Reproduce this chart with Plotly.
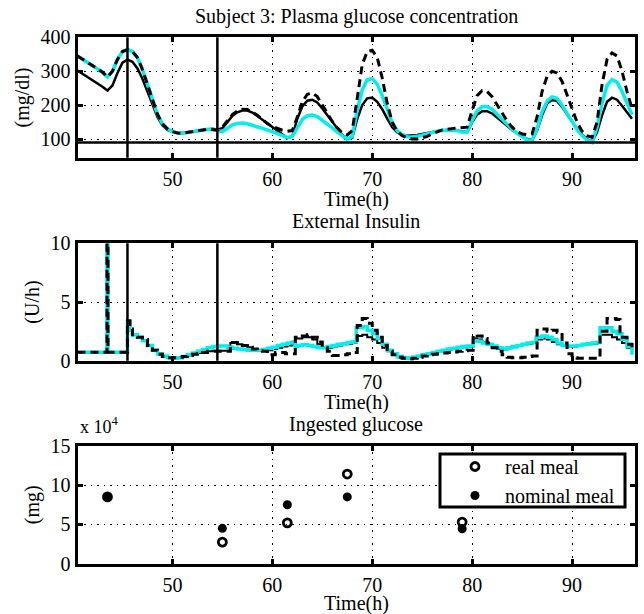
import plotly.graph_objects as go

# ---------------- data ----------------
glucose_time = [40.5, 41, 41.5, 42, 42.5, 43, 43.5, 44, 44.5, 45, 45.5, 46, 46.5, 47, 47.5, 48, 48.5, 49, 49.5, 50,
                50.5, 51, 51.5, 52, 52.5, 53, 53.5, 54, 54.5, 55, 55.5, 56, 56.5, 57, 57.5, 58, 58.5, 59, 59.5, 60,
                60.5, 61, 61.5, 62, 62.5, 63, 63.5, 64, 64.5, 65, 65.5, 66, 66.5, 67, 67.5, 68, 68.5, 69, 69.5, 70,
                70.5, 71, 71.5, 72, 72.5, 73, 73.5, 74, 74.5, 75, 75.5, 76, 76.5, 77, 77.5, 78, 78.5, 79, 79.5, 80,
                80.5, 81, 81.5, 82, 82.5, 83, 83.5, 84, 84.5, 85, 85.5, 86, 86.5, 87, 87.5, 88, 88.5, 89, 89.5, 90,
                90.5, 91, 91.5, 92, 92.5, 93, 93.5, 94, 94.5, 95, 95.5, 96]

glucose_black = [302, 293, 284, 274, 264, 254, 243, 258, 295, 325, 334, 328, 308, 278, 240, 200, 165, 140, 127, 121,
                 118, 118, 120, 122, 125, 127, 129, 130, 128, 132, 150, 168, 179, 184, 184, 178, 168, 157, 146, 136,
                 124, 112, 103, 108, 160, 196, 213, 216, 208, 190, 170, 150, 130, 112, 99, 104, 160, 200, 220, 222,
                 210, 188, 160, 135, 120, 113, 110, 110, 112, 115, 118, 121, 124, 126, 127, 127, 126, 122, 120, 150,
                 172, 182, 182, 175, 163, 150, 138, 127, 117, 108, 100, 97, 125, 170, 205, 215, 212, 195, 172, 150,
                 130, 113, 100, 92, 120, 170, 210, 222, 216, 198, 178, 160]

glucose_cyan = [345, 336, 326, 317, 307, 297, 283, 300, 335, 358, 364, 358, 340, 305, 262, 215, 173, 145, 130, 122,
                118, 117, 119, 122, 125, 127, 129, 128, 125, 122, 132, 142, 146, 147, 145, 141, 136, 131, 127, 122,
                116, 110, 104, 108, 135, 158, 169, 171, 166, 156, 145, 133, 121, 110, 99, 108, 185, 245, 275, 278,
                262, 228, 185, 148, 125, 113, 107, 106, 108, 112, 116, 120, 123, 125, 126, 126, 125, 121, 120, 155,
                183, 195, 196, 188, 173, 158, 143, 129, 117, 106, 98, 96, 130, 180, 212, 224, 220, 200, 175, 150,
                128, 110, 97, 90, 135, 205, 258, 275, 268, 240, 205, 172]

glucose_dashed = [345, 336, 326, 317, 307, 297, 283, 300, 335, 358, 364, 358, 340, 305, 262, 215, 173, 145, 130, 122,
                  118, 117, 119, 122, 125, 127, 129, 128, 126, 135, 155, 172, 183, 188, 187, 180, 170, 158, 146, 137,
                  131, 126, 123, 125, 165, 210, 232, 236, 225, 200, 175, 152, 133, 118, 112, 125, 220, 320, 358, 362,
                  340, 280, 205, 150, 122, 110, 104, 100, 100, 103, 108, 115, 122, 127, 129, 130, 131, 132, 135, 185,
                  228, 243, 240, 225, 200, 175, 153, 135, 122, 115, 113, 115, 165, 240, 285, 300, 295, 270, 232, 190,
                  150, 123, 110, 105, 150, 260, 335, 354, 345, 300, 240, 190]

hypo_threshold = 90          # mg/dl
event_times = [45.5, 54.5]   # h

ins_black_time = [40.5, 43.45, 43.55, 45.5, 45.75, 46, 46.5, 47, 47.5, 48, 48.5, 49, 49.5, 50, 50.5, 51, 51.5, 52,
                  52.5, 53, 53.5, 54, 54.5, 55.8, 56.5, 57, 57.5, 58, 58.5, 59, 59.5, 60, 60.5, 61, 61.5, 62, 62.3,
                  63, 63.5, 64, 64.5, 65, 65.5, 66, 66.5, 67, 67.5, 68, 68.4, 69, 69.5, 70, 70.5, 71, 71.5, 72, 72.5,
                  73, 73.5, 74, 74.5, 75, 75.5, 76, 76.5, 77, 77.5, 78, 78.5, 79, 79.5, 80.1, 80.5, 81, 81.5, 82,
                  82.5, 83, 83.5, 84, 84.5, 85, 85.5, 86, 86.4, 87, 87.5, 88, 88.5, 89, 89.5, 90, 90.5, 91, 91.5, 92,
                  92.5, 92.8, 93.5, 94, 94.5, 95, 95.5, 96]
ins_black = [0.72, 10, 0.72, 3.3, 2.6, 2.2, 2.0, 1.75, 1.3, 0.9, 0.55, 0.35, 0.25, 0.22, 0.28, 0.35, 0.45, 0.55,
             0.65, 0.75, 0.8, 0.85, 0.85, 1.5, 1.4, 1.3, 1.15, 1.0, 0.9, 0.85, 0.9, 1.0, 1.1, 1.2, 1.3, 1.4, 1.9,
             2.0, 2.0, 1.8, 1.4, 1.1, 1.1, 1.2, 1.3, 1.4, 1.45, 1.5, 2.1, 2.2, 2.0, 1.8, 1.5, 1.1, 0.8, 0.5, 0.3,
             0.2, 0.2, 0.25, 0.35, 0.45, 0.55, 0.65, 0.75, 0.85, 0.95, 1.0, 1.1, 1.15, 1.2, 1.9, 1.8, 1.6, 1.4, 1.2,
             1.0, 0.95, 1.05, 1.15, 1.25, 1.35, 1.45, 1.5, 1.8, 1.9, 1.8, 1.6, 1.4, 1.25, 1.2, 1.2, 1.25, 1.35, 1.4, 1.45,
             1.5, 2.2, 2.2, 2.0, 1.8, 1.5, 1.1, 0.6]

ins_cyan_time = [40.5, 43.45, 43.55, 45.5, 45.75, 46, 46.5, 47, 47.5, 48, 48.5, 49, 49.5, 50, 50.5, 51, 51.5, 52,
                 52.5, 53, 53.5, 54, 54.5, 55, 55.5, 56, 56.5, 57, 57.5, 58, 58.5, 59, 59.5, 60, 60.5, 61, 61.5, 62,
                 62.3, 62.5, 63, 63.5, 64, 64.5, 65, 65.5, 66, 66.5, 67, 67.5, 68, 68.4, 69, 69.5, 70, 70.5, 71, 71.5,
                 72, 72.5, 73, 73.5, 74, 74.5, 75, 75.5, 76, 76.5, 77, 77.5, 78, 78.5, 79, 79.5, 80.1, 80.5, 81, 81.5,
                 82, 82.5, 83, 83.5, 84, 84.5, 85, 85.5, 86, 86.4, 87, 87.5, 88, 88.5, 89, 89.5, 90, 90.5, 91, 91.5,
                 92, 92.5, 92.8, 93.5, 94, 94.5, 95, 95.5, 96]
ins_cyan = [0.72, 10, 0.72, 3.3, 2.6, 2.2, 2.0, 1.7, 1.3, 0.9, 0.6, 0.4, 0.25, 0.2, 0.25, 0.35, 0.5, 0.65,
            0.8, 0.95, 1.1, 1.2, 1.25, 1.25, 1.15, 1.05, 1.0, 0.95, 0.9, 0.9, 0.9, 0.95, 1.05, 1.15, 1.3, 1.4, 1.5, 1.6,
            1.2, 1.3, 1.35, 1.3, 1.2, 1.1, 1.1, 1.2, 1.3, 1.4, 1.45, 1.55, 1.6, 2.8, 2.9, 2.6, 2.3, 1.9, 1.4, 0.9,
            0.6, 0.35, 0.25, 0.2, 0.3, 0.4, 0.5, 0.6, 0.7, 0.8, 0.9, 1.0, 1.05, 1.15, 1.2, 1.25, 1.7, 1.65, 1.5, 1.4,
            1.25, 1.1, 1.0, 1.1, 1.2, 1.3, 1.4, 1.5, 1.55, 2.0, 2.1, 2.0, 1.8, 1.5, 1.3, 1.25, 1.25, 1.3, 1.4, 1.45,
            1.5, 1.55, 2.8, 2.8, 2.5, 2.3, 1.8, 1.2, 0.5]

ins_dashed_time = [40.5, 43.45, 43.55, 45.5, 45.75, 46, 46.5, 47, 47.5, 48, 48.5, 49, 49.5, 50, 50.5, 51, 51.5, 52,
                   52.5, 53, 53.5, 54, 54.5, 55.8, 56.5, 57, 57.5, 58, 58.5, 59, 59.5, 60.3, 61.3, 62.3, 63, 63.5,
                   64, 64.5, 65, 65.5, 66, 67, 67.5, 68, 68.5, 69, 69.5, 70, 70.5, 71, 71.5, 72, 72.5, 73, 73.5, 74,
                   74.5, 75, 75.5, 76, 76.5, 77, 77.5, 78, 78.5, 79, 79.5, 80.1, 80.5, 81, 81.5, 82, 82.5, 83, 83.5,
                   84, 84.5, 85, 85.5, 86, 86.5, 87, 87.5, 88, 88.5, 89, 89.5, 90, 90.5, 91, 91.5, 92, 92.5, 92.8,
                   93.5, 94.4, 94.8, 95.5, 96]
ins_dashed = [0.72, 10, 0.72, 3.4, 2.7, 2.2, 2.0, 1.8, 1.3, 0.9, 0.55, 0.35, 0.25, 0.25, 0.3, 0.35, 0.45, 0.55,
              0.6, 0.7, 0.8, 0.8, 0.8, 1.55, 1.45, 1.3, 1.15, 1.0, 0.85, 0.8, 0.5, 0.7, 0.6, 2.0, 2.1, 2.2,
              2.0, 1.6, 1.1, 0.8, 0.45, 0.5, 0.6, 0.7, 3.0, 3.6, 3.2, 2.6, 2.0, 1.3, 0.8, 0.5, 0.3, 0.2, 0.15, 0.2,
              0.3, 0.4, 0.5, 0.55, 0.6, 0.65, 0.7, 0.75, 0.8, 0.85, 0.9, 2.2, 2.1, 1.9, 1.5, 1.1, 0.8, 0.5, 0.3,
              0.25, 0.25, 0.3, 0.35, 0.4, 2.6, 2.7, 2.5, 2.6, 2.4, 1.5, 0.6, 0.25, 0.2, 0.2, 0.2, 0.2, 0.3, 2.5,
              3.6, 3.5, 2.0, 1.4, 0.8]

meal_time = [43.5, 55.0, 61.5, 67.5, 79.0]
real_meal_mg = [85000, 27500, 52000, 114000, 53000]
nominal_meal_mg = [85000, 45000, 75000, 85000, 44500]

x_ticks = [50, 60, 70, 80, 90]

# ---------------- styling ----------------
FONT = "Liberation Serif"
CYAN = "#00EEEE"
W, H = 644, 614
X_LEFT, X_RIGHT = 77.5, 635


def px_dom_x(a, b):
    return [a / W, b / W]


def px_dom_y(top, bottom):
    return [1 - bottom / H, 1 - top / H]


def py(p):
    return 1 - p / H


fig = go.Figure()

# Panel 1 : glucose
fig.add_trace(go.Scatter(x=glucose_time, y=glucose_black, mode="lines", xaxis="x", yaxis="y",
                         line=dict(color="black", width=2.5), showlegend=False))
fig.add_trace(go.Scatter(x=glucose_time, y=glucose_cyan, mode="lines", xaxis="x", yaxis="y",
                         line=dict(color=CYAN, width=3.5), showlegend=False))
fig.add_trace(go.Scatter(x=glucose_time, y=glucose_dashed, mode="lines", xaxis="x", yaxis="y",
                         line=dict(color="black", width=3, dash="8px,5px"), showlegend=False))

# Panel 2 : insulin
fig.add_trace(go.Scatter(x=ins_black_time, y=ins_black, mode="lines", xaxis="x2", yaxis="y2",
                         line=dict(color="black", width=2, shape="hv"), showlegend=False))
fig.add_trace(go.Scatter(x=ins_cyan_time, y=ins_cyan, mode="lines", xaxis="x2", yaxis="y2",
                         line=dict(color=CYAN, width=3.5, shape="hv"), showlegend=False))
fig.add_trace(go.Scatter(x=ins_dashed_time, y=ins_dashed, mode="lines", xaxis="x2", yaxis="y2",
                         line=dict(color="black", width=3, dash="8px,5px", shape="hv"), showlegend=False))

# Panel 3 : meals
fig.add_trace(go.Scatter(x=meal_time, y=[v / 1e4 for v in real_meal_mg], mode="markers", xaxis="x3", yaxis="y3",
                         name="real meal",
                         marker=dict(symbol="circle-open", size=8, color="black", line=dict(width=2.8, color="black"))))
fig.add_trace(go.Scatter(x=meal_time, y=[v / 1e4 for v in nominal_meal_mg], mode="markers", xaxis="x3", yaxis="y3",
                         name="nominal meal",
                         marker=dict(symbol="circle", size=9, color="black")))

axis_common = dict(showline=True, linewidth=3, linecolor="black", mirror="ticks",
                   ticks="inside", ticklen=5, tickwidth=2.5, tickcolor="black",
                   showgrid=True, gridcolor="black", gridwidth=1.2, griddash="1.5px,5px",
                   zeroline=False, automargin=False,
                   tickfont=dict(family=FONT, size=20, color="black"))

xdom = px_dom_x(X_LEFT, X_RIGHT)
xrange = [40.5, 96.3]
title_font = dict(family=FONT, size=20, color="black")

layout_axes = {}
panels = [
    (37.3, 157.7, [45, 400], [100, 200, 300, 400], "(mg/dl)"),
    (243.3, 360.7, [0, 10], [0, 5, 10], "(U/h)"),
    (445.7, 563.8, [0, 15], [0, 5, 10, 15], "(mg)"),
]
for i, (top, bottom, yr, yt, ylab) in enumerate(panels):
    sfx = "" if i == 0 else str(i + 1)
    layout_axes["xaxis" + sfx] = dict(axis_common, domain=xdom, range=xrange, tickvals=x_ticks,
                                      anchor="y" + sfx, ticklabelstandoff=1)
    layout_axes["yaxis" + sfx] = dict(axis_common, domain=px_dom_y(top, bottom), range=yr, tickvals=yt,
                                      anchor="x" + sfx, ticklabelstandoff=0,
                                      title=dict(text=ylab, font=title_font, standoff=6))

shapes = []
for t in event_times:
    for xr, yr in (("x", "y domain"), ("x2", "y2 domain")):
        shapes.append(dict(type="line", xref=xr, yref=yr, x0=t, x1=t, y0=0, y1=1,
                           line=dict(color="black", width=2.5)))
shapes.append(dict(type="line", xref="x domain", yref="y", x0=0, x1=1, y0=hypo_threshold, y1=hypo_threshold,
                   line=dict(color="black", width=2.5)))
# legend frame (white box hiding the data behind it)
shapes.append(dict(type="rect", xref="paper", yref="paper", x0=440 / W, x1=625 / W, y0=py(507), y1=py(454),
                   fillcolor="white", line=dict(color="black", width=3), layer="above"))

xc = (X_LEFT + X_RIGHT) / 2 / W
annotations = [
    dict(text="Subject 3: Plasma glucose concentration", x=xc, y=py(16)),
    dict(text="External Insulin", x=xc, y=py(221)),
    dict(text="Ingested glucose", x=xc, y=py(424)),
    dict(text="Time(h)", x=xc, y=py(200)),
    dict(text="Time(h)", x=xc, y=py(402)),
    dict(text="Time(h)", x=xc, y=py(603)),
]
for a in annotations:
    a.update(xref="paper", yref="paper", showarrow=False, font=title_font, xanchor="center", yanchor="middle")
annotations.append(dict(text="x 10<sup>4</sup>", x=78 / W, y=py(425), xref="paper", yref="paper", showarrow=False,
                        font=dict(family=FONT, size=18, color="black"), xanchor="left", yanchor="middle"))

fig.update_layout(
    width=W, height=H, margin=dict(l=0, r=0, t=0, b=0, autoexpand=False),
    paper_bgcolor="white", plot_bgcolor="white",
    font=dict(family=FONT, size=20, color="black"),
    shapes=shapes, annotations=annotations,
    legend=dict(x=445 / W, xanchor="left", y=py(447), yanchor="top",
                bgcolor="rgba(0,0,0,0)", borderwidth=0,
                font=dict(family=FONT, size=20, color="black"),
                itemwidth=50, tracegroupgap=0),
    **layout_axes,
)

fig.write_html("out.html", config={"displayModeBar": False},
               post_script="document.body.style.margin='0';document.body.style.overflow='hidden';")
